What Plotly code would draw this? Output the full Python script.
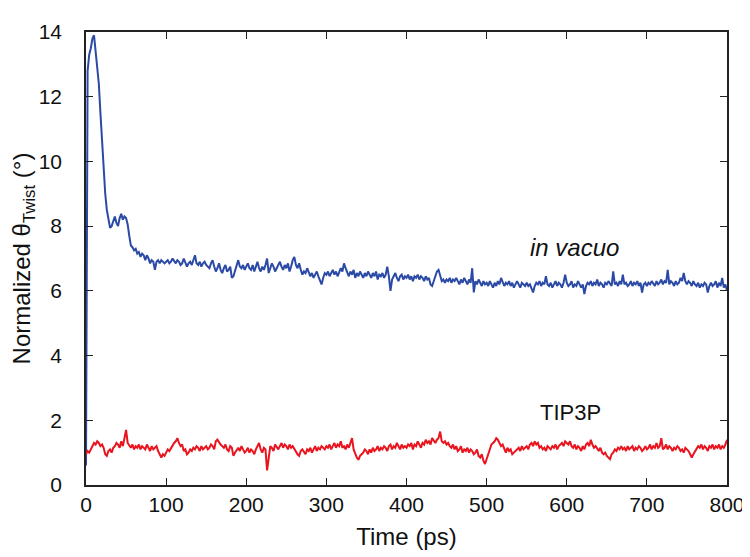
import plotly.graph_objects as go

# ---- data (2 ps sampling) ----
vacuo = [
    0.6, 12.8, 13.3, 13.5, 13.8, 13.9, 13.4, 12.9, 12.4, 11.5, 10.6, 9.8, 9.0, 8.5, 8.2, 7.95, 8.0, 8.15, 8.3, 8.1, 8.0, 8.25, 8.38, 8.2, 8.3,
    8.25, 8.05, 7.7, 7.4, 7.35, 7.25, 7.3, 7.15, 7.2, 7.05, 7.15, 7.1, 6.95, 7.1, 7.0, 6.85, 6.95, 6.9, 6.65, 6.9, 6.95, 6.85, 6.95, 6.9, 6.85,
    6.9, 6.95, 6.85, 6.9, 7.0, 6.9, 6.85, 6.95, 6.9, 6.8, 6.85, 7.0, 6.9, 6.75, 6.85, 6.9, 6.8, 6.95, 7.1, 6.85, 6.8, 6.9, 6.75, 6.85, 6.9,
    6.8, 6.75, 6.7, 6.85, 6.95, 6.75, 6.6, 6.7, 6.85, 6.65, 6.55, 6.7, 6.8, 6.6, 6.65, 6.75, 6.4, 6.45, 6.6, 6.8, 6.95, 6.75, 6.7, 6.8, 6.65,
    6.75, 6.85, 6.7, 6.65, 6.8, 6.6, 6.75, 6.9, 6.7, 6.6, 6.75, 6.65, 6.8, 7.0, 6.55, 6.7, 6.85, 6.75, 6.6, 6.7, 6.8, 6.9, 6.75, 6.65, 6.8,
    6.7, 6.85, 6.6, 6.75, 6.95, 7.05, 6.8, 6.7, 6.85, 6.65, 6.5, 6.6, 6.55, 6.7, 6.6, 6.45, 6.55, 6.4, 6.5, 6.6, 6.45, 6.35, 6.2, 6.4, 6.55,
    6.5, 6.6, 6.45, 6.55, 6.65, 6.5, 6.6, 6.45, 6.55, 6.7, 6.6, 6.85, 6.7, 6.55, 6.45, 6.6, 6.5, 6.65, 6.4, 6.55, 6.45, 6.6, 6.5, 6.4, 6.55,
    6.45, 6.6, 6.5, 6.4, 6.55, 6.45, 6.6, 6.35, 6.5, 6.45, 6.55, 6.4, 6.5, 6.75, 6.45, 6.0, 6.35, 6.45, 6.55, 6.4, 6.3, 6.45, 6.5, 6.35, 6.45,
    6.4, 6.5, 6.35, 6.45, 6.3, 6.45, 6.4, 6.5, 6.35, 6.45, 6.4, 6.3, 6.45, 6.35, 6.4, 6.2, 6.15, 6.3, 6.45, 6.6, 6.65, 6.45, 6.3, 6.35, 6.25,
    6.35, 6.3, 6.4, 6.25, 6.35, 6.3, 6.4, 6.3, 6.2, 6.35, 6.25, 6.4, 6.3, 6.2, 6.35, 6.25, 6.7, 5.95, 6.3, 6.2, 6.35, 6.25, 6.15, 6.3, 6.2,
    6.25, 6.15, 6.3, 6.2, 6.1, 6.25, 6.15, 6.3, 6.2, 6.4, 6.25, 6.15, 6.25, 6.2, 6.3, 6.15, 6.25, 6.1, 6.2, 6.3, 6.2, 6.1, 6.25, 6.2, 6.15,
    6.25, 6.15, 6.2, 6.05, 5.95, 6.15, 6.25, 6.2, 6.3, 6.15, 6.25, 6.2, 6.45, 6.2, 6.15, 6.25, 6.1, 6.2, 6.3, 6.15, 6.25, 6.2, 6.1, 6.25, 6.5,
    6.25, 6.15, 6.2, 6.3, 6.1, 6.2, 6.15, 6.3, 6.2, 6.1, 6.2, 5.9, 6.15, 6.25, 6.2, 6.3, 6.15, 6.25, 6.2, 6.35, 6.15, 6.25, 6.2, 6.1, 6.25,
    6.2, 6.3, 6.2, 6.15, 6.6, 6.2, 6.25, 6.15, 6.3, 6.2, 6.5, 6.2, 6.25, 6.15, 6.2, 6.3, 6.15, 6.25, 6.2, 6.3, 6.15, 6.25, 5.95, 6.2, 6.25,
    6.15, 6.25, 6.2, 6.3, 6.2, 6.15, 6.3, 6.2, 6.25, 6.35, 6.2, 6.3, 6.25, 6.65, 6.2, 6.3, 6.25, 6.15, 6.3, 6.2, 6.25, 6.4, 6.3, 6.55, 6.3,
    6.2, 6.3, 6.25, 6.15, 6.3, 6.2, 6.15, 6.25, 6.1, 6.2, 6.15, 6.25, 6.2, 5.95, 6.15, 6.25, 6.15, 6.2, 6.3, 6.1, 6.25, 6.15, 6.4, 6.1, 6.2,
    6.0,
]

tip3p = [
    0.95, 1.05, 1.0, 1.1, 1.2, 1.3, 1.25, 1.35, 1.3, 1.2, 1.25, 1.15, 0.95, 0.9, 1.05, 1.1, 1.0, 1.15, 1.2, 1.3, 1.25, 1.15, 1.35, 1.2, 1.45,
    1.7, 1.3, 1.2, 1.15, 1.25, 1.1, 1.2, 1.15, 1.25, 1.1, 1.2, 1.15, 1.1, 1.25, 1.15, 1.05, 1.2, 1.1, 1.15, 1.2, 1.05, 0.95, 0.85, 0.95, 0.9,
    1.0, 1.1, 1.05, 1.15, 1.2, 1.3, 1.35, 1.45, 1.3, 1.2, 1.25, 1.05, 1.1, 0.95, 1.0, 1.1, 1.05, 1.15, 1.1, 1.2, 1.15, 1.05, 1.2, 1.1, 1.15,
    1.2, 1.1, 1.15, 1.25, 1.2, 1.1, 1.35, 1.4, 1.3, 1.25, 1.2, 1.15, 1.25, 1.1, 1.05, 1.2, 1.15, 0.9, 1.0, 1.1, 1.15, 1.05, 1.2, 1.1, 1.0,
    1.05, 1.15, 1.0, 1.1, 1.05, 0.95, 1.1, 1.2, 1.3, 1.1, 1.0, 1.15, 1.1, 0.45, 0.9, 1.2, 1.15, 1.05, 1.25, 1.15, 1.1, 1.2, 1.3, 1.15, 1.25,
    1.2, 1.1, 1.25, 1.15, 1.2, 1.1, 1.0, 0.95, 0.9, 1.05, 1.1, 1.0, 0.95, 1.1, 1.05, 1.15, 1.0, 1.1, 1.2, 1.05, 1.15, 1.1, 1.2, 1.15, 1.1,
    1.2, 1.15, 1.25, 1.1, 1.2, 1.3, 1.15, 1.25, 1.2, 1.35, 1.15, 1.2, 1.1, 1.25, 1.15, 1.3, 1.45, 1.1, 0.95, 0.85, 0.78, 0.9, 0.95, 1.0, 1.1,
    1.05, 0.95, 1.1, 1.0, 1.15, 1.05, 1.1, 1.2, 1.05, 1.15, 1.1, 1.2, 1.15, 1.05, 1.2, 1.25, 1.1, 1.2, 1.15, 1.3, 1.2, 1.1, 1.25, 1.15, 1.2,
    1.15, 1.25, 1.2, 1.3, 1.1, 1.25, 1.2, 1.35, 1.25, 1.15, 1.3, 1.25, 1.4, 1.3, 1.35, 1.25, 1.45, 1.35, 1.3, 1.4, 1.45, 1.65, 1.35, 1.3, 1.35,
    1.25, 1.3, 1.2, 1.15, 1.25, 1.1, 1.2, 1.05, 1.1, 1.2, 1.0, 1.1, 1.05, 1.15, 1.0, 1.1, 1.05, 0.95, 1.0, 1.1, 0.9, 0.85, 0.95, 0.75, 0.65,
    0.8, 0.95, 1.1, 1.25, 1.3, 1.35, 1.45, 1.4, 1.3, 1.2, 1.25, 1.1, 1.0, 1.15, 1.05, 1.1, 0.95, 1.0, 1.05, 1.1, 1.15, 1.05, 1.2, 1.1, 1.15,
    1.2, 1.1, 1.25, 1.3, 1.2, 1.35, 1.25, 1.3, 1.15, 1.2, 1.1, 1.15, 1.05, 1.2, 1.15, 1.1, 1.2, 1.15, 1.25, 1.1, 1.2, 1.25, 1.3, 1.2, 1.35,
    1.3, 1.25, 1.35, 1.2, 1.15, 1.25, 1.1, 1.2, 1.15, 1.05, 1.2, 1.1, 1.25, 1.3, 1.2, 1.4, 1.25, 1.15, 1.2, 1.1, 1.05, 1.15, 1.0, 0.95, 1.0,
    0.9, 0.85, 0.8, 0.95, 1.0, 1.1, 1.05, 1.15, 1.1, 1.2, 1.1, 1.15, 1.05, 1.2, 1.1, 1.15, 1.2, 1.05, 1.15, 1.1, 1.2, 1.15, 1.05, 1.1, 1.2,
    1.1, 1.15, 1.25, 1.1, 1.2, 1.15, 1.3, 1.15, 1.2, 1.45, 1.1, 1.15, 1.25, 1.1, 1.2, 1.15, 1.05, 1.15, 1.1, 1.2, 1.15, 1.05, 1.1, 1.0, 1.15,
    1.1, 1.05, 0.95, 0.85, 0.95, 1.05, 1.1, 1.2, 1.15, 1.25, 1.1, 1.2, 1.15, 1.05, 1.2, 1.15, 1.25, 1.1, 1.2, 1.15, 1.25, 1.1, 1.2, 1.15, 1.25,
    1.4,
]

time_step = 2
t_vacuo = [time_step * i for i in range(len(vacuo))]
t_tip3p = [time_step * i for i in range(len(tip3p))]

x_ticks = [0, 100, 200, 300, 400, 500, 600, 700, 800]
y_ticks = [0, 2, 4, 6, 8, 10, 12, 14]

label_vacuo = "in vacuo"
label_tip3p = "TIP3P"
label_pos_vacuo = (610, 7.35)
label_pos_tip3p = (605, 2.25)

FONT = "Liberation Sans, Arial, sans-serif"

fig = go.Figure()
fig.add_trace(go.Scatter(x=t_vacuo, y=vacuo, mode="lines",
                         line=dict(color="#2b4aa6", width=2), showlegend=False))
fig.add_trace(go.Scatter(x=t_tip3p, y=tip3p, mode="lines",
                         line=dict(color="#e8141e", width=2), showlegend=False))

fig.add_annotation(x=label_pos_vacuo[0], y=label_pos_vacuo[1], text="<i>" + label_vacuo + "</i>",
                   showarrow=False, font=dict(family=FONT, size=24, color="#111"))
fig.add_annotation(x=label_pos_tip3p[0], y=label_pos_tip3p[1], text=label_tip3p,
                   showarrow=False, font=dict(family=FONT, size=22, color="#111"))

axis_common = dict(showline=True, linecolor="#222", linewidth=1.5, mirror="ticks",
                   ticks="inside", ticklen=7, tickwidth=1.2, tickcolor="#222",
                   showgrid=False, zeroline=False,
                   tickfont=dict(family=FONT, size=21, color="#111"))

fig.update_xaxes(range=[0, 800], tickvals=x_ticks, ticklabelstandoff=0,
                 title=dict(text="Time (ps)", font=dict(family=FONT, size=24, color="#111"), standoff=13),
                 **axis_common)
fig.update_yaxes(range=[0, 14], tickvals=y_ticks, ticklabelstandoff=18,
                 title=dict(text="Normalized θ<sub>Twist</sub> (°)", font=dict(family=FONT, size=24, color="#111"), standoff=2),
                 **axis_common)

fig.update_layout(width=750, height=557, plot_bgcolor="white", paper_bgcolor="white",
                  margin=dict(l=78, r=31, t=17, b=80))

fig.write_html("out.html")
